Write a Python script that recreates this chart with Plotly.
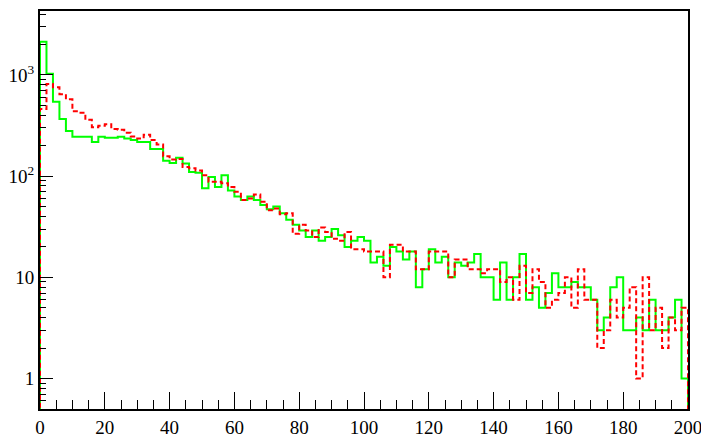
import plotly.graph_objects as go

BIN_WIDTH = 2
BIN_EDGES = list(range(0, 202, BIN_WIDTH))

# green solid histogram, counts per 2-unit bin
green_counts = [
    2130, 1030, 545, 367, 280, 245, 245, 245, 218, 245,
    239, 239, 245, 236, 228, 218, 218, 185, 185, 142,
    135, 152, 133, 110, 108, 76, 98, 78, 102, 72,
    63, 58, 63, 58, 52, 47, 50, 43, 37, 33,
    29, 25, 29, 23, 25, 30, 26, 20, 23, 25,
    23, 14, 16, 13, 20, 18, 15, 18, 8, 12,
    19, 14, 16, 10, 14, 13, 14, 17, 10, 10,
    6, 14, 6, 10, 17, 6, 8, 5, 7, 11,
    8, 8, 9, 8, 8, 6, 3, 4, 8, 10,
    3, 3, 4, 3, 6, 3, 3, 4, 6, 1,
]

# red dashed histogram
red_counts = [
    460, 815, 757, 645, 575, 437, 424, 360, 305, 315,
    325, 292, 287, 268, 247, 235, 257, 227, 206, 157,
    146, 148, 123, 120, 114, 102, 88, 88, 85, 78,
    70, 58, 60, 66, 56, 46, 48, 42, 43, 27,
    33, 29, 25, 31, 28, 24, 23, 28, 19, 19,
    18, 18, 18, 10, 21, 21, 18, 18, 12, 12,
    18, 18, 18, 10, 15, 15, 12, 12, 11, 12,
    12, 9, 10, 6, 13, 7, 12, 9, 5, 6,
    7, 10, 5, 12, 6, 6, 2, 3, 6, 4,
    5, 8, 1, 10, 3, 5, 2, 4, 3, 5,
]

x_tick_vals = list(range(0, 201, 20))
y_tick_vals = [1, 10, 100, 1000]
y_tick_text = ["1", "10", "10<sup>2</sup>", "10<sup>3</sup>"]

FONT = "Liberation Serif, Times New Roman, serif"
BASELINE = 0.1  # below the axis range, so the outline drops out of view


def step_outline(counts):
    # ROOT-like outline: rise from the baseline, step through bins, drop at the end
    xs = [BIN_EDGES[0]] + BIN_EDGES[:-1] + [BIN_EDGES[-1], BIN_EDGES[-1]]
    ys = [BASELINE] + counts + [counts[-1], BASELINE]
    return xs, ys


def minor_log_ticks():
    vals = [0.6, 0.7, 0.8, 0.9]
    for decade in [1, 10, 100, 1000]:
        for k in range(2, 10):
            vals.append(k * decade)
    return vals


fig = go.Figure()

gx, gy = step_outline(green_counts)
fig.add_trace(go.Scatter(
    x=gx, y=gy, mode="lines", line_shape="hv",
    line=dict(color="#00ff00", width=2),
    showlegend=False,
))

rx, ry = step_outline(red_counts)
fig.add_trace(go.Scatter(
    x=rx, y=ry, mode="lines", line_shape="hv",
    line=dict(color="#ff0000", width=2, dash="5px,3px"),
    showlegend=False,
))

fig.update_layout(
    width=701,
    height=443,
    margin=dict(l=40, r=13, t=11, b=34, autoexpand=False),
    paper_bgcolor="white",
    plot_bgcolor="white",
    font=dict(family=FONT, size=19, color="black"),
)

fig.update_xaxes(
    range=[0, 200],
    tickvals=x_tick_vals,
    tickfont=dict(family=FONT, size=19, color="black"),
    ticklabeloverflow="allow",
    automargin=False,
    ticks="inside", ticklen=17, tickwidth=1, tickcolor="black",
    minor=dict(dtick=5, ticks="inside", ticklen=9, tickcolor="black", tickwidth=1),
    showgrid=False, zeroline=False,
    showline=True, linecolor="black", linewidth=2, mirror=True,
)

fig.update_yaxes(
    type="log",
    range=[-0.30103, 3.632],
    tickvals=y_tick_vals,
    ticktext=y_tick_text,
    tickfont=dict(family=FONT, size=19, color="black"),
    ticklabeloverflow="allow",
    automargin=False,
    ticks="inside", ticklen=13, tickwidth=1, tickcolor="black",
    minor=dict(tickvals=minor_log_ticks(), ticks="inside", ticklen=6,
               tickcolor="black", tickwidth=1),
    showgrid=False, zeroline=False,
    showline=True, linecolor="black", linewidth=2, mirror=True,
)

# the page's default body margin would shift the whole figure by 8px
fig.write_html(
    "out.html",
    config={"displayModeBar": False},
    post_script="document.body.style.margin = '0';",
)
